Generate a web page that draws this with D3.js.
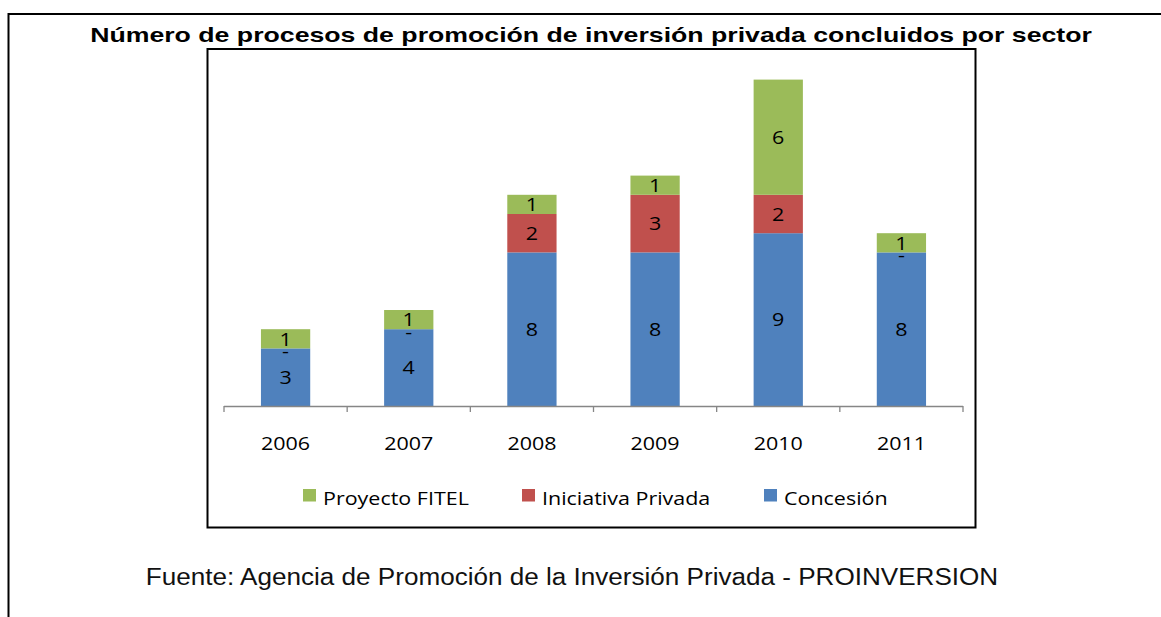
<!DOCTYPE html>
<html lang="es">
<head>
	<meta charset="UTF-8">
	<title>Procesos de promoción de inversión privada</title>
	<script src="https://d3js.org/d3.v7.min.js"></script>
	<style>
		body { margin: 0; background: #fff; }
		svg text { font-family: "Open Sans", "Noto Sans", sans-serif; }
	</style>
</head>
<body>
	<script>
		// data
		var years = ["2006", "2007", "2008", "2009", "2010", "2011"];
		var concesion = [3, 4, 8, 8, 9, 8];
		var iniciativa = [0, 0, 2, 3, 2, 0];
		var fitel = [1, 1, 1, 1, 6, 1];
		var seriesNames = ["Concesión", "Iniciativa Privada", "Proyecto FITEL"];
		var legendOrder = ["Proyecto FITEL", "Iniciativa Privada", "Concesión"];
		var colors = { "Concesión": "#4F81BD", "Iniciativa Privada": "#C0504D", "Proyecto FITEL": "#9BBB59" };

		var w = 1161, h = 617;
		var sx = 1.13; // the original picture is stretched sideways
		var svg = d3.select("body").append("svg")
			.attr("width", w).attr("height", h);

		function place(x, y, s) {
			return "translate(" + x + "," + y + ") scale(" + (s || sx) + ",1)";
		}

		// outer frame (only top and left edges visible)
		svg.append("line").attr("x1", 8.5).attr("y1", 14).attr("x2", w).attr("y2", 14)
			.attr("stroke", "#000").attr("stroke-width", 2);
		svg.append("line").attr("x1", 8.5).attr("y1", 13).attr("x2", 8.5).attr("y2", h)
			.attr("stroke", "#000").attr("stroke-width", 2);

		svg.append("text")
			.attr("transform", place(591, 41.5, 1.27))
			.attr("text-anchor", "middle")
			.style("font-family", "'Liberation Sans', Arial, sans-serif")
			.style("font-weight", "bold")
			.style("font-size", "21px")
			.text("Número de procesos de promoción de inversión privada concluidos por sector");

		// chart box
		svg.append("rect").attr("x", 207.5).attr("y", 49).attr("width", 768).attr("height", 478.5)
			.attr("fill", "none").attr("stroke", "#000").attr("stroke-width", 2);

		var table = years.map(function(y, i) {
			return { year: y, "Concesión": concesion[i], "Iniciativa Privada": iniciativa[i], "Proyecto FITEL": fitel[i] };
		});
		var stacked = d3.stack().keys(seriesNames)(table);

		var x = d3.scaleBand().domain(years).range([224, 963]).paddingInner(0.6).paddingOuter(0.3);
		var y = d3.scaleLinear().domain([0, 18]).range([406, 60.4]);

		var g = svg.append("g");
		stacked.forEach(function(layer) {
			g.selectAll(null).data(layer).enter().append("rect")
				.attr("x", function(d) { return x(d.data.year); })
				.attr("width", x.bandwidth())
				.attr("y", function(d) { return y(d[1]); })
				.attr("height", function(d) { return y(d[0]) - y(d[1]); })
				.attr("fill", colors[layer.key]);
		});
		stacked.forEach(function(layer) {
			g.selectAll(null).data(layer).enter().append("text")
				.attr("transform", function(d) {
					return place(x(d.data.year) + x.bandwidth() / 2, (y(d[0]) + y(d[1])) / 2);
				})
				.attr("dy", function(d) { return d[1] - d[0] === 0 ? "0.5em" : "0.36em"; })
				.attr("text-anchor", "middle")
				.style("font-size", "19px")
				.attr("fill", "#000")
				.text(function(d) { var v = d[1] - d[0]; return v === 0 ? "-" : v; });
		});

		// category axis
		var xEdge = d3.scaleLinear().domain([0, years.length]).range([224, 963]);
		var axis = svg.append("g").attr("stroke", "#868686").attr("stroke-width", 1.3);
		axis.append("line").attr("x1", 224).attr("x2", 963).attr("y1", 406.5).attr("y2", 406.5);
		axis.selectAll(null).data(d3.range(years.length + 1)).enter().append("line")
			.attr("x1", function(d) { return xEdge(d); }).attr("x2", function(d) { return xEdge(d); })
			.attr("y1", 406).attr("y2", 412);
		svg.selectAll(null).data(years).enter().append("text")
			.attr("transform", function(d) { return place(x(d) + x.bandwidth() / 2, 449.5); })
			.attr("text-anchor", "middle")
			.style("font-size", "19px")
			.text(function(d) { return d; });

		// legend
		var legendX = [303, 522, 764];
		var lg = svg.selectAll(null).data(legendOrder).enter().append("g")
			.attr("transform", function(d, i) { return "translate(" + legendX[i] + ",489)"; });
		lg.append("rect").attr("width", 13).attr("height", 12.5)
			.attr("fill", function(d) { return colors[d]; });
		lg.append("text").attr("transform", place(20, 15.5))
			.style("font-size", "19px")
			.text(function(d) { return d; });

		svg.append("text")
			.attr("transform", place(572, 584.5, 1.065))
			.attr("text-anchor", "middle")
			.style("font-family", "'Liberation Sans', Arial, sans-serif")
			.style("font-size", "24.5px")
			.attr("fill", "#111")
			.text("Fuente: Agencia de Promoción de la Inversión Privada - PROINVERSION");
	</script>
</body>
</html>
